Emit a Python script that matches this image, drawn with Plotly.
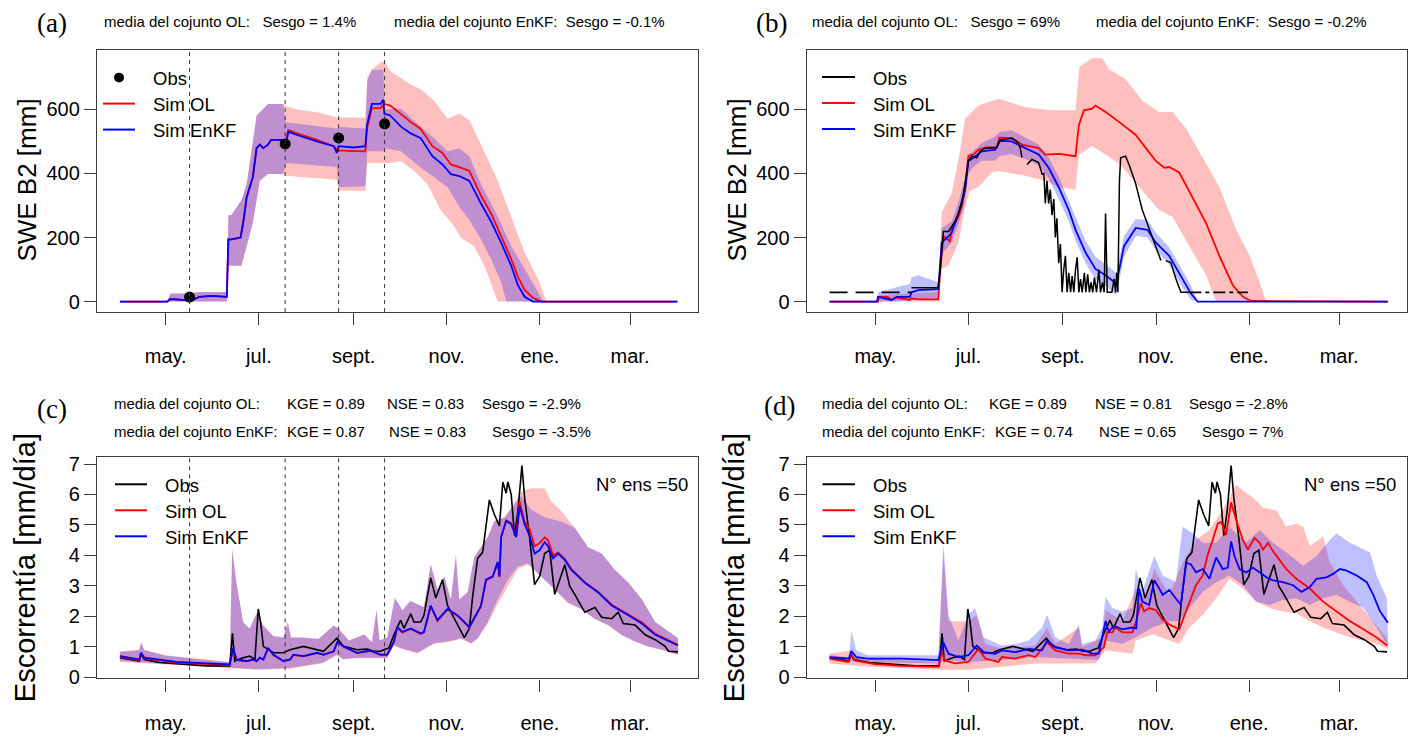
import plotly.graph_objects as go

# ======================= DATA =======================
month_tick_days = [30, 91, 153, 214, 275, 334]
month_labels = ["may.", "jul.", "sept.", "nov.", "ene.", "mar."]
assim_days = [45.6, 108.2, 143.2, 173.3]

# ---- (a) SWE, assimilation at obs dates ----
a_obs_days = [45.6, 108.2, 143.2, 173.3]
a_obs = [14, 492, 511, 555]

a_enkf_days = [0, 31, 33, 40, 45, 47, 52, 60, 70, 71,
               73, 79, 81, 83, 87, 89.5, 91.6, 93.8, 97, 99,
               107, 109, 110.3, 116, 129, 140, 142, 143.2, 153, 160.7,
               161.8, 165, 170.6, 172.4, 173.2, 177, 184, 190.4, 197, 204.6,
               211.2, 216.7, 222.2, 228.8, 236.4, 243, 249.6, 256.2, 260.6, 265,
               270.4, 365]
a_enkf_mean = [0, 0, 8, 6, 5, 3, 15, 18, 15, 194,
               194, 200, 255, 326, 388, 479, 490, 479, 490, 505,
               505, 500, 530, 520, 500, 485, 464, 485, 481, 485,
               551, 617, 617, 630, 586, 581, 546, 525, 510, 454,
               428, 398, 392, 377, 306, 250, 184, 112, 51, 15,
               0, 0]
a_ol_days = [0, 31, 33, 40, 45, 47, 52, 60, 70, 71,
             73, 79, 81, 83, 87, 89.5, 91.6, 93.8, 97, 99,
             107, 109, 110.3, 116, 129, 140, 142, 143.2, 153, 160.7,
             161.8, 165, 170.6, 173, 177, 184, 190.4, 197, 204.6, 211.2,
             216.7, 222.2, 228.8, 236.4, 243, 249.6, 256.2, 260.6, 265, 270.4,
             276, 365]
a_ol_mean = [0, 0, 8, 6, 5, 3, 15, 18, 15, 194,
             194, 200, 255, 326, 388, 479, 490, 479, 490, 505,
             505, 505, 535, 525, 505, 485, 474, 472, 470, 469,
             540, 604, 604, 617, 612, 584, 561, 539, 485, 464,
             428, 420, 408, 331, 275, 204, 133, 77, 36, 12,
             0, 0]
a_ol_hi_days = [0, 31, 33, 45, 52, 70, 71, 73, 79.6, 83,
                89.5, 97, 107, 109, 116, 130, 142, 143, 160.7, 162,
                165, 170, 173, 177, 184, 190.4, 197, 205.7, 214.5, 222.2,
                228.8, 236.4, 247.4, 256.2, 265, 273.7, 279.2, 365]
a_ol_hi = [0, 0, 25, 25, 30, 30, 270, 270, 316, 367,
           581, 617, 617, 610, 600, 590, 575, 575, 575, 700,
           724, 745, 750, 720, 699, 678, 663, 627, 571, 587,
           566, 490, 377, 265, 153, 71, 0, 0]
a_ol_lo_days = [0, 70, 71, 79.6, 83, 87, 91.6, 97, 107, 108.5,
                142, 143.2, 160.7, 162, 177, 184, 192.6, 201.3, 210, 218.9,
                223.3, 232, 238.6, 247.4, 365]
a_ol_lo = [0, 0, 112, 112, 173, 245, 377, 398, 398, 393,
           380, 347, 345, 433, 433, 439, 408, 367, 286, 235,
           199, 173, 112, 0, 0]
a_enkf_hi_days = [0, 31, 33, 45, 52, 70, 71, 73, 79.6, 83,
                  89.5, 97, 107, 108.5, 142, 143.2, 160.7, 162, 165, 172.5,
                  173.3, 184, 190.4, 197, 205.7, 214.5, 222.2, 228.8, 236.4, 247.4,
                  256.2, 265, 273.7, 277, 365]
a_enkf_hi = [0, 0, 25, 25, 30, 30, 270, 270, 316, 367,
             581, 617, 617, 560, 540, 545, 540, 690, 724, 724,
             600, 602, 576, 546, 510, 469, 479, 454, 367, 265,
             173, 102, 31, 0, 0]
a_enkf_lo_days = [0, 70, 71, 79.6, 83, 87, 91.6, 97, 107, 108.5,
                  142, 143.2, 160.7, 162, 172.5, 173.3, 184, 197, 205.7, 214.5,
                  222.2, 228.8, 236.4, 243, 249.6, 253, 365]
a_enkf_lo = [0, 0, 112, 112, 173, 245, 377, 398, 398, 433,
             420, 357, 360, 469, 469, 479, 469, 418, 388, 357,
             296, 255, 194, 133, 61, 0, 0]

# ---- (b) SWE, daily obs ----
b_obs_days = [53.7, 71, 72.4, 74.6, 78, 80, 82.2, 84.4, 86.6, 88.8,
              91, 93.2, 96.5, 98.7, 102, 109.6, 111.8, 119.5, 122.8, 125,
              126.1, 127.5, 129.4, 132.7, 137, 139.3, 140.5, 141.4, 142.5, 143.6,
              144.7, 145.8, 147, 148, 149, 150.2, 151.3, 152.4, 153.5, 154.6,
              155.7, 156.8, 158, 159, 160.1, 161.2, 162.3, 163.4, 164.5, 165.6,
              167, 168, 169.2, 170.3, 171.4, 172.5, 173.6, 175, 176.5, 177.6,
              178.8, 180, 180.9, 182, 185, 186.5, 187.5, 188.2, 189, 190,
              190.8, 194, 196.3, 200.7, 205, 210.6, 215, 217.2, 218.8, 220.5,
              223.7, 227, 230.3, 235.8]
b_obs = [43, 43, 92, 219, 219, 235, 250, 275, 306, 367,
         439, 454, 449, 469, 479, 481, 505, 510, 500, 479,
         449, None, 428, 444, 434, 398, 400, 306, 377, 306,
         350, 270, 320, 200, 260, 120, 180, 29, 100, 143,
         29, 90, 29, 80, 29, 100, 138, 29, 70, 29,
         90, 29, 85, 29, 60, 29, 75, 29, 100, 29,
         60, 29, 275, 29, 29, 71, 29, 90, 29, 377,
         449, 454, 428, 367, 286, 214, 153, 128, None, 128,
         122, 71, 29, 29]
b_obs_gap1_days = [0, 53.7]
b_obs_gap1 = [29, 29]
b_obs_gap2_days = [235.8, 274.2]
b_obs_gap2 = [29, 29]

b_ol_days = [0, 31.8, 32.2, 38, 40.6, 43.9, 52.6, 53.7, 58.1, 71.3,
             72.4, 74.6, 78.9, 80, 84.4, 86.6, 88.8, 91, 94.3, 97.6,
             102, 109.6, 111.2, 119.5, 126.1, 137, 141.4, 150.2, 161.2, 163.4,
             166.7, 172.1, 174.3, 180.9, 189.7, 200.7, 207.3, 213.9, 219.4, 222.6,
             229.2, 238, 246.8, 255.5, 264.3, 270.9, 276.4, 365.4]
b_ol_mean = [0, 0, 15, 15, 5, 12, 5, 10, 7, 7,
             92, 204, 189, 224, 265, 296, 357, 454, 459, 474,
             481, 481, 512, 510, 490, 479, 459, 461, 454, 551,
             597, 602, 612, 592, 561, 520, 479, 439, 418, 420,
             403, 326, 245, 143, 51, 15, 2, 0]
b_ol_hi_days = [0, 31.8, 32.2, 53, 71.3, 73.5, 80, 85.5, 88.8, 97.6,
                110.7, 117.3, 128.3, 145.8, 161.2, 163.8, 172.1, 178.7, 183.2, 194.1,
                205.1, 216, 224.8, 233.6, 244.6, 255.5, 266.5, 275.3, 281.9, 286.2,
                365]
b_ol_hi = [0, 0, 20, 25, 30, 280, 337, 469, 571, 612,
           633, 623, 607, 597, 597, 734, 760, 760, 725, 694,
           627, 592, 592, 541, 449, 357, 224, 143, 61, 0,
           0]
b_ol_lo_days = [0, 71.3, 73.5, 77.9, 84.4, 88.8, 92.1, 97.6, 106.3, 110.7,
                128.3, 141.4, 150.2, 161.2, 163.4, 172.1, 180.9, 189.7, 194.1, 205.1,
                216, 224.8, 235.8, 246.8, 253.4, 365]
b_ol_lo = [0, 0, 102, 112, 184, 296, 347, 357, 403, 408,
           393, 377, 357, 349, 459, 485, 459, 430, 408, 347,
           286, 265, 173, 82, 0, 0]
b_enkf_days = [0, 31, 31.8, 40.6, 43.9, 52.6, 53.7, 58.1, 71.3, 73.5,
               76.8, 80, 84.4, 88.8, 91, 94.3, 99.8, 108.6, 111.8, 119.5,
               128.3, 137.1, 143.6, 150.2, 156.8, 161.2, 167.8, 174.3, 180.9, 188,
               193, 200.7, 208.4, 213.9, 222.6, 229.2, 236.9, 241.3, 366]
b_enkf_mean = [0, 0, 15, 5, 15, 15, 29, 36, 39, 184,
               199, 214, 275, 347, 439, 449, 469, 474, 502, 500,
               479, 459, 418, 357, 286, 224, 153, 102, 82, 56,
               173, 230, 224, 184, 143, 87, 25, 0, 0]
b_enkf_hi = [0, 0, 30, 40, 45, 55, 75, 82, 60, 230,
             240, 250, 310, 390, 460, 470, 495, 515, 530, 535,
             512, 490, 450, 390, 320, 265, 190, 140, 115, 90,
             205, 258, 255, 215, 170, 115, 50, 0, 0]
b_enkf_lo = [0, 0, 0, 0, 0, 5, 5, 8, 10, 150,
             165, 185, 240, 310, 400, 420, 440, 440, 455, 460,
             445, 425, 385, 320, 250, 190, 120, 70, 50, 20,
             140, 205, 200, 160, 115, 60, 5, 0, 0]

# ---- observed runoff (c) and (d) ----
q_obs_days = [0, 12.7, 13.8, 16, 25.9, 36.8, 45.6, 56.6, 71.9, 73.7,
              75.2, 80.7, 85, 88.4, 90.6, 92.1, 93.9, 100.4, 107, 111.4,
              120.2, 129, 133.3, 142.1, 146.5, 155.3, 161.8, 166.2, 170.6, 172.8,
              176.1, 179.4, 183.8, 186, 190.4, 192.5, 196.9, 199.1, 203.5, 206.8,
              209.5, 211.2, 214.5, 218.9, 225.5, 228.8, 231, 234.2, 237.5, 241.9,
              245.2, 248.5, 250.7, 252.9, 254, 256.2, 258.4, 260.6, 263.2, 265,
              268.2, 271.5, 274.8, 278.1, 281.4, 284.7, 288, 291.3, 294.5, 297.8,
              304.4, 311, 315.4, 322, 326.3, 329.6, 337.3, 343.9, 350.5, 357,
              359.2, 365.4]
q_obs = [0.64, 0.53, 0.74, 0.58, 0.48, 0.44, 0.40, 0.37, 0.37, 1.44,
         0.53, 0.64, 0.69, 0.58, 2.24, 1.81, 1.01, 0.80, 0.80, 0.90,
         1.01, 0.90, 0.85, 1.28, 1.01, 0.90, 0.92, 0.85, 0.85, 0.90,
         0.96, 1.39, 1.87, 1.60, 2.08, 1.81, 1.81, 2.03, 3.26, 2.60,
         3.00, 3.20, 2.35, 1.92, 1.30, 1.60, 2.67, 3.90, 4.10, 5.82,
         5.34, 4.97, 6.41, 6.04, 6.41, 6.00, 4.65, 5.45, 6.95, 5.88,
         4.60, 3.04, 3.31, 4.06, 4.17, 2.72, 3.20, 3.69, 2.99, 2.72,
         2.13, 2.29, 1.97, 1.92, 2.13, 1.76, 1.71, 1.39, 1.23, 1.01,
         0.85, 0.83]

# ---- (c) runoff, assimilation at obs dates ----
c_days = [0, 12.7, 13.8, 16, 36.8, 71.9, 74.1, 76.3, 82.9, 87.3,
          89.5, 91.7, 93.9, 97.1, 100.4, 107, 111.4, 113.6, 120.2, 129,
          133.3, 139.9, 142.5, 146.5, 155.3, 164, 170.6, 175, 179.4, 181.6,
          184.9, 190.4, 196.9, 199.1, 203.5, 207.9, 214.5, 221.1, 228.8, 236.4,
          239.7, 244.1, 247.4, 248.5, 249.6, 252.9, 256.2, 259.5, 261.7, 265,
          268.2, 271.5, 274.8, 278.1, 280.3, 283.6, 286.9, 291.3, 295.6, 304.4,
          313.2, 322, 332.9, 341.7, 350.5, 359.2, 365.4]
c_enkf_mean = [0.69, 0.58, 0.80, 0.64, 0.50, 0.42, 0.96, 0.58, 0.53, 0.58,
               0.53, 0.64, 0.58, 0.96, 0.74, 0.53, 0.58, 0.74, 0.69, 0.80,
               0.74, 0.85, 1.17, 1.01, 0.80, 0.87, 0.74, 0.74, 1.17, 1.65,
               1.49, 1.60, 1.44, 1.49, 2.35, 1.87, 2.24, 2.03, 1.65, 2.35,
               3.20, 3.31, 3.79, 3.31, 4.60, 5.13, 5.02, 4.60, 5.61, 5.02,
               4.65, 4.06, 4.17, 4.43, 4.30, 3.90, 4.06, 3.85, 3.52, 3.10,
               2.78, 2.35, 2.03, 1.76, 1.39, 1.17, 1.04]
c_ol_mean = [0.67, 0.56, 0.78, 0.62, 0.48, 0.40, 0.94, 0.56, 0.52, 0.57,
             0.52, 0.63, 0.57, 0.95, 0.73, 0.52, 0.57, 0.73, 0.68, 0.79,
             0.73, 0.84, 1.15, 1.00, 0.79, 0.86, 0.73, 0.73, 1.15, 1.62,
             1.47, 1.58, 1.42, 1.47, 2.33, 1.85, 2.22, 2.01, 1.63, 2.33,
             3.18, 3.29, 3.77, 3.29, 4.60, 5.15, 5.05, 4.65, 5.77, 5.10,
             4.86, 4.30, 4.40, 4.59, 4.50, 4.00, 4.10, 3.88, 3.55, 3.12,
             2.80, 2.38, 2.06, 1.80, 1.42, 1.20, 1.06]
c_hi_days = [0, 12.7, 13.8, 16, 30, 60, 71.9, 73.5, 76.3, 80.7,
             85, 89.5, 93.9, 100.4, 107, 110, 112, 120.2, 130, 140,
             143, 150, 160, 165, 168, 170, 175, 180, 185, 190,
             199, 203.5, 208, 212.3, 216.7, 220, 222.2, 227.7, 232, 236.4,
             240.8, 245.2, 251.8, 256.2, 262.7, 269.3, 278.1, 282.5, 289.1, 297.8,
             306.6, 315.4, 324.2, 333, 341.7, 350.5, 359.2, 365.4]
c_ol_hi = [0.85, 0.90, 1.15, 0.90, 0.72, 0.56, 0.50, 4.20, 3.10, 1.80,
           1.60, 2.10, 1.70, 1.35, 1.30, 1.80, 1.30, 1.30, 1.25, 1.70,
           1.60, 1.20, 1.40, 1.15, 2.20, 1.20, 1.30, 2.60, 2.20, 2.50,
           2.30, 3.70, 2.88, 3.31, 2.55, 4.00, 2.55, 2.80, 3.95, 4.27,
           4.60, 5.13, 5.24, 5.55, 6.09, 6.20, 6.20, 5.77, 5.45, 4.91,
           4.27, 4.06, 3.52, 3.10, 2.56, 1.81, 1.49, 1.28]
c_enkf_hi = [0.83, 0.88, 1.12, 0.88, 0.70, 0.55, 0.49, 4.20, 3.10, 1.80,
             1.60, 2.10, 1.70, 1.35, 1.30, 1.80, 1.30, 1.30, 1.25, 1.70,
             1.60, 1.20, 1.40, 1.15, 2.20, 1.20, 1.30, 2.60, 2.20, 2.50,
             2.30, 3.70, 2.88, 3.31, 2.55, 4.00, 2.55, 2.80, 3.95, 4.27,
             4.60, 5.13, 5.24, 5.55, 5.95, 5.50, 5.25, 5.20, 5.10, 4.91,
             4.27, 4.06, 3.52, 3.10, 2.56, 1.81, 1.49, 1.28]
c_lo_days = [0, 40, 71.9, 80, 90, 111, 133, 142, 146, 155,
             175, 179.4, 183.8, 194.8, 205.7, 214.5, 223.3, 229.9, 234.2, 240.8,
             247.4, 254, 260.6, 267.1, 273.7, 280.3, 286.9, 293.4, 302.2, 311,
             319.8, 328.5, 337.3, 346.1, 354.8, 365.4]
c_enkf_lo = [0.53, 0.42, 0.32, 0.30, 0.26, 0.30, 0.48, 0.74, 0.60, 0.64,
             0.64, 1.06, 0.96, 0.80, 1.12, 1.17, 1.28, 1.12, 1.28, 1.81,
             2.56, 3.20, 3.63, 3.74, 3.42, 3.10, 2.78, 2.45, 2.24, 1.92,
             1.71, 1.39, 1.17, 1.01, 0.90, 0.74]
c_ol_lo = [0.50, 0.40, 0.30, 0.28, 0.24, 0.28, 0.46, 0.72, 0.58, 0.62,
           0.62, 1.04, 0.94, 0.78, 1.10, 1.15, 1.25, 1.10, 1.25, 1.75,
           2.40, 3.00, 3.55, 3.70, 3.40, 3.08, 2.76, 2.43, 2.22, 1.90,
           1.70, 1.38, 1.16, 1.00, 0.89, 0.73]

# ---- (d) runoff, daily assimilation ----
d_ol_days = [0, 12.1, 14.3, 16.4, 29.6, 47.1, 71.3, 73.5, 75.7, 82.2,
             91, 97.6, 102, 110.7, 112.9, 121.7, 130.5, 134.9, 142.5, 148,
             156.8, 163.4, 167.8, 174.3, 179.8, 182, 185.3, 187.5, 191.9, 198.5,
             200.7, 204, 206.2, 209.5, 213.9, 218.3, 222.7, 229.2, 233.6, 240.2,
             244.6, 247.9, 251.2, 254.5, 256.7, 259.9, 263.2, 266.5, 270.9, 274.2,
             278.6, 281.9, 284.1, 287.4, 290.6, 293.9, 299.4, 306, 314.8, 323.5,
             332.3, 341.1, 349.9, 358.6, 365.5]
d_ol_mean = [0.61, 0.50, 0.77, 0.55, 0.43, 0.37, 0.34, 0.82, 0.55, 0.45,
             0.50, 0.93, 0.61, 0.50, 0.66, 0.61, 0.72, 0.66, 1.14, 0.88,
             0.77, 0.77, 0.72, 0.72, 0.98, 1.47, 1.47, 1.63, 1.47, 1.47,
             1.79, 2.43, 2.16, 2.27, 2.20, 1.89, 1.73, 1.57, 2.16, 3.02,
             3.34, 4.03, 4.51, 5.05, 5.10, 4.67, 5.74, 5.16, 4.51, 4.19,
             4.57, 4.41, 4.19, 4.41, 4.14, 3.93, 3.55, 3.23, 2.91, 2.48,
             2.16, 1.84, 1.57, 1.30, 1.04]
d_enkf_days = [0, 12.7, 14.3, 17.5, 25, 47, 71.3, 74.6, 77.9, 84.4,
               91, 96.5, 101, 108.6, 112.9, 121.7, 130.5, 139.3, 142.5, 148,
               156.8, 165.6, 172.1, 176.5, 180.9, 183, 186.4, 192, 198.5, 201,
               202.9, 205, 209.5, 212.8, 216.1, 218.3, 222.7, 230.3, 233.6, 236.9,
               240.2, 244.6, 249, 253.4, 257.7, 261, 263.2, 265.4, 268.7, 273.1,
               277.5, 281.9, 286.3, 290.6, 297.2, 303.8, 309.3, 314.8, 319.2, 325.7,
               330.1, 334.5, 338.9, 345.5, 352.1, 356.4, 360.8, 366]
d_enkf_mean = [0.66, 0.61, 0.86, 0.66, 0.61, 0.61, 0.56, 1.14, 0.77, 0.66,
               0.72, 1.04, 0.82, 0.77, 0.88, 0.82, 0.93, 0.88, 1.20, 0.98,
               0.88, 0.90, 0.77, 0.77, 1.84, 1.50, 1.68, 1.57, 1.63, 1.60,
               2.91, 2.48, 2.37, 3.18, 2.91, 2.70, 2.86, 2.37, 3.76, 3.70,
               3.44, 3.55, 3.23, 3.93, 3.55, 3.60, 4.46, 3.98, 3.55, 3.44,
               3.60, 3.44, 3.28, 3.18, 3.12, 3.02, 2.80, 2.96, 3.23, 3.28,
               3.39, 3.55, 3.50, 3.34, 3.12, 2.70, 2.16, 1.79]
d_enkf_hi_days = [0, 12.7, 14.3, 17.5, 25, 71.3, 74.6, 77.9, 84.4, 91,
                  95.4, 100.9, 112.9, 121.7, 130.5, 139.3, 142.5, 148, 156.8, 163.4,
                  165.6, 174.3, 178.7, 180.9, 185.3, 191.9, 198.5, 200.7, 205, 212.8,
                  218.3, 227, 231.4, 238, 244.6, 253.4, 262.1, 266.5, 273.1, 281.9,
                  290.6, 299.4, 310.4, 319.2, 328, 332.3, 341.1, 349.9, 354.3, 358.6,
                  365.2]
d_enkf_hi = [0.72, 0.66, 1.52, 0.88, 0.72, 0.72, 4.40, 2.05, 1.20, 2.05,
             2.27, 1.30, 1.04, 1.09, 1.20, 1.63, 2.05, 1.30, 1.09, 1.73,
             1.09, 1.20, 1.63, 2.64, 2.27, 2.16, 2.27, 3.55, 2.81, 3.98,
             3.34, 3.12, 4.94, 4.72, 4.41, 4.41, 4.94, 4.72, 4.41, 4.83,
             4.41, 4.09, 3.66, 3.98, 4.51, 4.72, 4.41, 4.19, 4.09, 3.34,
             2.59]
d_enkf_lo_days = [0, 25, 71.3, 75.7, 91, 112.9, 134.9, 156.8, 176.5, 180.9,
                  192, 200.7, 211.7, 222.7, 229.2, 235.8, 244.6, 253.4, 262.1, 270.9,
                  279.7, 288.4, 297.2, 306, 314.8, 323.5, 332.3, 341.1, 349.9, 358.6,
                  366.3]
d_enkf_lo = [0.56, 0.50, 0.45, 0.56, 0.50, 0.56, 0.66, 0.61, 0.56, 1.20,
             1.09, 1.31, 1.63, 1.84, 1.84, 2.27, 2.80, 3.12, 3.34, 3.02,
             2.48, 2.37, 2.53, 2.59, 2.37, 2.59, 2.70, 2.48, 2.27, 1.63,
             0.98]
d_ol_hi_days = [0, 14.3, 16, 25, 71.3, 74.6, 77.9, 91, 96.5, 102,
                112.9, 134.9, 142.5, 148, 163.4, 165.6, 178.7, 181, 192, 200.7,
                207.3, 212.8, 222.7, 231.4, 240.2, 249, 257.7, 266.5, 270.9, 277.5,
                284.1, 292.8, 299.4, 306, 310.4, 314.8, 323.5, 328, 336.7, 345.5,
                354.2, 365.2]
d_ol_hi = [0.77, 0.88, 0.66, 0.61, 0.50, 4.09, 1.84, 1.84, 2.05, 1.09,
           0.93, 1.04, 1.63, 1.09, 1.63, 0.98, 1.30, 2.20, 1.84, 2.91,
           2.59, 3.55, 2.70, 3.76, 4.51, 4.83, 5.48, 6.33, 6.12, 5.90,
           5.56, 5.48, 4.94, 5.05, 4.94, 4.30, 4.62, 3.76, 3.02, 2.48,
           1.95, 1.30]
d_ol_lo_days = [0, 25, 71.3, 91, 112.9, 134.9, 174.3, 180.9, 198.5, 200.7,
                211.7, 222.7, 229.2, 235.8, 244.6, 253.4, 262.1, 270.9, 279.7, 288.4,
                297.2, 306, 314.8, 323.5, 332.3, 341.1, 349.9, 358.6, 366.3]
d_ol_lo = [0.45, 0.34, 0.24, 0.24, 0.34, 0.45, 0.45, 0.88, 0.77, 1.20,
           1.41, 1.20, 1.09, 1.63, 2.05, 2.59, 3.23, 2.91, 2.48, 2.27,
           2.16, 2.10, 1.84, 1.63, 1.47, 1.30, 1.20, 1.09, 0.93]

stats_a = ["media del cojunto OL:   Sesgo = 1.4%", "media del cojunto EnKF:  Sesgo = -0.1%"]
stats_b = ["media del cojunto OL:   Sesgo = 69%", "media del cojunto EnKF:  Sesgo = -0.2%"]
stats_c = [["media del cojunto OL:", "KGE = 0.89", "NSE = 0.83", "Sesgo = -2.9%"],
           ["media del cojunto EnKF:", "KGE = 0.87", "NSE = 0.83", "Sesgo = -3.5%"]]
stats_d = [["media del cojunto OL:", "KGE = 0.89", "NSE = 0.81", "Sesgo = -2.8%"],
           ["media del cojunto EnKF:", "KGE = 0.74", "NSE = 0.65", "Sesgo = 7%"]]

# ======================= FIGURE =======================
W, H = 1413, 744
SANS = "Liberation Sans, Arial, sans-serif"
SERIF = "Liberation Serif, Times New Roman, serif"
RED, BLUE = "#FF0000", "#0000FF"
PINK_FILL = "rgba(255,0,0,0.25)"
BLUE_FILL = "rgba(0,0,255,0.25)"


def hx(p):
    return p / W


def vy(p):
    return 1 - p / H


fig = go.Figure()


def band(ax, lo_d, lo_v, hi_d, hi_v, color):
    fig.add_trace(go.Scatter(x=list(lo_d) + list(hi_d)[::-1], y=list(lo_v) + list(hi_v)[::-1],
                             fill="toself", fillcolor=color, mode="lines", line=dict(width=0),
                             hoverinfo="skip", showlegend=False, xaxis="x" + ax, yaxis="y" + ax))


def line(ax, d, v, color, width=1.8, dash=None):
    fig.add_trace(go.Scatter(x=d, y=v, mode="lines", line=dict(color=color, width=width, dash=dash),
                             connectgaps=False, showlegend=False, xaxis="x" + ax, yaxis="y" + ax))


# (a)
band("", a_ol_lo_days, a_ol_lo, a_ol_hi_days, a_ol_hi, PINK_FILL)
band("", a_enkf_lo_days, a_enkf_lo, a_enkf_hi_days, a_enkf_hi, BLUE_FILL)
line("", a_ol_days, a_ol_mean, RED)
line("", a_enkf_days, a_enkf_mean, BLUE)
fig.add_trace(go.Scatter(x=a_obs_days, y=a_obs, mode="markers", marker=dict(color="black", size=11),
                         showlegend=False, xaxis="x", yaxis="y"))
# (b)
band("2", b_ol_lo_days, b_ol_lo, b_ol_hi_days, b_ol_hi, PINK_FILL)
band("2", b_enkf_days, b_enkf_lo, b_enkf_days, b_enkf_hi, BLUE_FILL)
line("2", b_ol_days, b_ol_mean, RED)
line("2", b_enkf_days, b_enkf_mean, BLUE)
line("2", b_obs_days, b_obs, "black", 1.5)
line("2", b_obs_gap1_days, b_obs_gap1, "black", 1.8, "18px,8px")
line("2", b_obs_gap2_days, b_obs_gap2, "black", 1.8, "12px,4px,4px,4px")
# (c)
band("3", c_lo_days, c_ol_lo, c_hi_days, c_ol_hi, PINK_FILL)
band("3", c_lo_days, c_enkf_lo, c_hi_days, c_enkf_hi, BLUE_FILL)
line("3", q_obs_days, q_obs, "black", 1.6)
line("3", c_days, c_ol_mean, RED)
line("3", c_days, c_enkf_mean, BLUE)
# (d)
band("4", d_ol_lo_days, d_ol_lo, d_ol_hi_days, d_ol_hi, PINK_FILL)
band("4", d_enkf_lo_days, d_enkf_lo, d_enkf_hi_days, d_enkf_hi, BLUE_FILL)
line("4", q_obs_days, q_obs, "black", 1.6)
line("4", d_ol_days, d_ol_mean, RED)
line("4", d_enkf_days, d_enkf_mean, BLUE)

AX = dict(showline=True, mirror=True, linecolor="#3c3c3c", linewidth=1.3, ticks="outside",
          ticklen=12, tickwidth=1.3, tickcolor="#3c3c3c", showgrid=False, zeroline=False,
          tickfont=dict(family=SANS, size=20, color="black"))
XD_L = [hx(97), hx(698)]
XD_R = [hx(806.7), hx(1407)]
YD_T = [vy(314), vy(47)]
YD_B = [vy(687.3), vy(462)]
XR = [-15, 378.5]


def xax(dom, anchor):
    return dict(AX, domain=dom, range=XR, anchor=anchor, tickmode="array",
                tickvals=month_tick_days, ticktext=month_labels, ticklabelstandoff=14)


def yax(dom, anchor, rng, vals):
    return dict(AX, domain=dom, range=rng, anchor=anchor, tickmode="array", tickvals=vals,
                ticktext=[str(v) for v in vals])


swe_ticks = [0, 200, 400, 600]
q_ticks = [0, 1, 2, 3, 4, 5, 6, 7]
fig.update_layout(
    xaxis=xax(XD_L, "y"), yaxis=yax(YD_T, "x", [-32.8, 785], swe_ticks),
    xaxis2=xax(XD_R, "y2"), yaxis2=yax(YD_T, "x2", [-32.8, 785], swe_ticks),
    xaxis3=xax(XD_L, "y3"), yaxis3=yax(YD_B, "x3", [-0.04, 7.22], q_ticks),
    xaxis4=xax(XD_R, "y4"), yaxis4=yax(YD_B, "x4", [-0.04, 7.22], q_ticks),
)

shapes = []
for ax in ["", "3"]:
    for d in assim_days:
        shapes.append(dict(type="line", xref="x" + ax, yref="y" + ax + " domain", x0=d, x1=d, y0=0, y1=1,
                           line=dict(color="#333333", width=1, dash="4px,4px"), layer="above"))

annotations = []


def text(xp, yp, s, size, family=SANS, xanchor="left", angle=0, color="black"):
    annotations.append(dict(x=hx(xp), y=vy(yp), xref="paper", yref="paper", text=s, showarrow=False,
                            xanchor=xanchor, yanchor="middle", textangle=angle,
                            font=dict(family=family, size=size, color=color)))


def legend(x_line0, x_line1, x_text, y0, first_is_marker):
    ys = [y0, y0 + 26.5, y0 + 53]
    labels = ["Obs", "Sim OL", "Sim EnKF"]
    colors = ["black", RED, BLUE]
    for i in range(3):
        if i == 0 and first_is_marker:
            xc = (x_line0 + x_line1) / 2
            shapes.append(dict(type="circle", xref="paper", yref="paper", x0=hx(xc - 5), x1=hx(xc + 5),
                               y0=vy(ys[i] + 5), y1=vy(ys[i] - 5), fillcolor="black", line=dict(width=0)))
        else:
            shapes.append(dict(type="line", xref="paper", yref="paper", x0=hx(x_line0), x1=hx(x_line1),
                               y0=vy(ys[i]), y1=vy(ys[i]), line=dict(color=colors[i], width=2)))
        text(x_text, ys[i] + 1, labels[i], 18.5)


legend(103, 135, 151, 75, True)
legend(822, 855, 871, 74.5, False)
legend(115, 147, 163, 489.5, False)
legend(822.5, 855, 871, 489.5, False)

# panel letters
text(52, 19, "(a)", 27, SERIF, "center")
text(772, 19, "(b)", 27, SERIF, "center")
text(52, 413, "(c)", 27, SERIF, "center")
text(779, 410, "(d)", 27, SERIF, "center")

# stats lines
ST = 15
text(102, 18, stats_a[0], ST)
text(392, 18, stats_a[1], ST)
text(810, 18, stats_b[0], ST)
text(1094, 18, stats_b[1], ST)
for row, yy in zip(stats_c, [407, 436]):
    xs = [112, 285, 385, 480] if yy == 407 else [112, 285, 387, 490]
    for s, xx in zip(row, xs):
        text(xx, yy, s, ST)
for row, yy in zip(stats_d, [407, 436]):
    xs = [820, 987, 1093, 1187] if yy == 407 else [820, 993, 1097, 1200]
    for s, xx in zip(row, xs):
        text(xx, yy, s, ST)

text(690, 490, "N° ens =50", 18.5, SANS, "right")
text(1398, 490, "N° ens =50", 18.5, SANS, "right")

# y-axis titles
text(27, 180, "SWE B2 [mm]", 26, SANS, "center", -90)
text(737, 180, "SWE B2 [mm]", 26, SANS, "center", -90)
text(25, 575, "Escorrentía [mm/día]", 29, SANS, "center", -90)
text(734, 575, "Escorrentía [mm/día]", 29, SANS, "center", -90)

fig.update_layout(width=W, height=H, margin=dict(l=0, r=0, t=0, b=0), paper_bgcolor="white",
                  plot_bgcolor="white", showlegend=False, shapes=shapes, annotations=annotations)

fig.write_html("out.html", config={"displayModeBar": False},
               post_script="document.body.style.margin='0';")
